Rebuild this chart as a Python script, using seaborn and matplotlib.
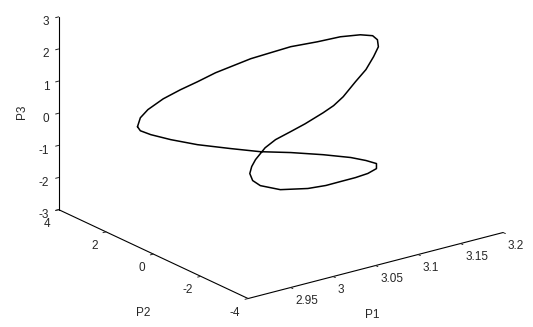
import matplotlib
matplotlib.use("Agg")
import matplotlib.pyplot as plt
import seaborn as sns
import numpy as np

# Closed orbit of the three-parameter system (P1, P2, P3)
p1 = [2.920, 2.923, 2.931, 2.947, 2.965, 2.983, 3.002, 3.018, 3.039, 3.060,
      3.081, 3.109, 3.133, 3.154, 3.167, 3.172, 3.173, 3.168, 3.160, 3.149,
      3.136, 3.126, 3.115, 3.096, 3.081, 3.065, 3.054, 3.049, 3.044, 3.040, 3.038,
      3.041, 3.049, 3.070, 3.099, 3.118, 3.133, 3.149, 3.162, 3.171, 3.171,
      3.160, 3.144, 3.115, 3.081, 3.049, 3.018, 2.983, 2.955, 2.934, 2.923,
      2.920]
p2 = [1.390, 1.376, 1.344, 1.272, 1.195, 1.118, 1.037, 0.969, 0.878, 0.788,
      0.697, 0.575, 0.471, 0.380, 0.326, 0.303, 0.299, 0.322, 0.358, 0.403,
      0.457, 0.503, 0.548, 0.629, 0.697, 0.765, 0.810, 0.833, 0.856, 0.874, 0.883,
      0.869, 0.833, 0.742, 0.620, 0.539, 0.471, 0.403, 0.349, 0.308, 0.308,
      0.358, 0.426, 0.548, 0.697, 0.833, 0.969, 1.118, 1.240, 1.331, 1.376,
      1.390]
p3 = [0.346, 0.609, 0.819, 1.070, 1.255, 1.408, 1.586, 1.689, 1.825, 1.900,
      1.974, 1.977, 2.004, 1.954, 1.855, 1.703, 1.479, 1.197, 0.837, 0.521,
      0.122, -0.102, -0.263, -0.505, -0.668, -0.833, -1.026, -1.184, -1.342, -1.537, -1.744,
      -1.978, -2.178, -2.416, -2.536, -2.544, -2.503, -2.464, -2.406, -2.302, -2.146,
      -1.992, -1.813, -1.569, -1.321, -1.122, -0.860, -0.550, -0.244, 0.024, 0.205,
      0.346]

p1_ticks = [2.95, 3.0, 3.05, 3.1, 3.15, 3.2]
p1_labels = ["2.95", "3", "3.05", "3.1", "3.15", "3.2"]
p2_ticks = [-4, -2, 0, 2, 4]
p3_ticks = [-3, -2, -1, 0, 1, 2, 3]

sns.set_style("white")
plt.rcParams["font.family"] = ["Liberation Sans", "DejaVu Sans"]
plt.rcParams["axes.unicode_minus"] = False

fig = plt.figure(figsize=(5.33, 3.27), dpi=100)
ax = fig.add_axes([0.0765, -0.1156, 0.8773, 1.430], projection="3d")
ax.set_proj_type("ortho")
ax.view_init(elev=20.4, azim=-126.6)
ax.set_box_aspect((1, 1, 0.6475), zoom=1.0258)

ax.plot(p1, p2, p3, color="black", lw=1.1, solid_joinstyle="round")

ax.set_xlim(2.9, 3.2)
ax.set_ylim(-4, 4)
ax.set_zlim(-3, 3)
ax.set_xticks(p1_ticks)
ax.set_xticklabels(p1_labels)
ax.set_yticks(p2_ticks)
ax.set_zticks(p3_ticks)
ax.tick_params(labelsize=8.5)
ax.tick_params(axis="x", pad=-3.6)
ax.tick_params(axis="y", pad=-2.5)
ax.tick_params(axis="z", pad=-4.3)
for t in ax.get_xticklabels():
    t.set_horizontalalignment("left")
for t in ax.get_yticklabels():
    t.set_horizontalalignment("right")
for t in ax.get_zticklabels():
    t.set_horizontalalignment("right")
ax.grid(False)
for axis in (ax.xaxis, ax.yaxis, ax.zaxis):
    axis.set_pane_color((1, 1, 1, 0))
    axis.pane.set_edgecolor((1, 1, 1, 0))
    axis.line.set_color("black")
    axis.line.set_linewidth(0.8)
    axis._axinfo["tick"]["inward_factor"] = 0.15
    axis._axinfo["tick"]["outward_factor"] = 0.0
    axis._axinfo["tick"]["linewidth"] = {True: 0.7, False: 0.5}

# Axis titles placed beside each projected axis
fig.text(372 / 533, 1 - 315 / 327, "P1", fontsize=8.5, ha="center", va="center")
fig.text(143 / 533, 1 - 313 / 327, "P2", fontsize=8.5, ha="center", va="center")
fig.text(22 / 533, 1 - 112 / 327, "P3", fontsize=8.5, ha="center", va="center",
         rotation=90)

fig.savefig("out.png", dpi=100, facecolor="white")
